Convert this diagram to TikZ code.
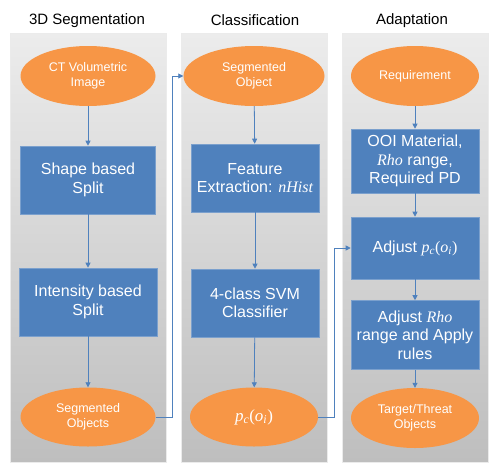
\documentclass[tikz,border=0pt]{standalone}
\usepackage{fontspec}
\setmainfont{Liberation Sans}
\newfontfamily\varface{Liberation Serif}
\usetikzlibrary{shapes.geometric,arrows.meta}

\definecolor{stageblue}{RGB}{79,129,189}
\definecolor{ovalorange}{RGB}{247,150,70}
\definecolor{panelTop}{RGB}{236,236,236}
\definecolor{panelBot}{RGB}{190,190,190}

% italic variable names, set as in the figure
\newcommand{\varname}[1]{{\varface\itshape #1}}
\newcommand{\probterm}{{\varface\itshape p\textsubscript{c}\upshape(\itshape o\textsubscript{i}\upshape)}}

\tikzset{
    panel/.style={rectangle, inner sep=0pt, draw=white!92!black, line width=0.6pt,
        top color=panelTop, bottom color=panelBot},
    heading/.style={font=\fontsize{15}{18}\selectfont},
    oval/.style={ellipse, inner sep=0pt, fill=ovalorange, text=white, align=center,
        minimum height=60, font=\fontsize{12.5}{15}\selectfont},
    stage/.style={rectangle, inner sep=0pt, fill=stageblue, draw=stageblue!75!white,
        line width=0.6pt, text=white, align=center, font=\fontsize{16}{18.5}\selectfont},
    flow/.style={draw=stageblue, line width=0.8pt, -{Triangle[length=5pt,width=5pt]}}
}

\begin{document}
\begin{tikzpicture}[x=1pt,y=1pt,yscale=-1,xscale=1]
    \useasboundingbox (0,0) rectangle (498,469);

    % Panels
    \node [panel, minimum width=156, minimum height=429] (segpanel) at (88,247.5) {};
    \node [panel, minimum width=146, minimum height=429] (clspanel) at (254,247.5) {};
    \node [panel, minimum width=146, minimum height=429] (adppanel) at (415,247.5) {};

    % Headings
    \node [heading] (seghead) at (87,21) {3D Segmentation};
    \node [heading] (clshead) at (255,20) {Classification};
    \node [heading] (adphead) at (412,21) {Adaptation};

    % 3D Segmentation
    \node [oval, minimum width=135] (ctimage) at (88,76) {CT Volumetric\\Image};
    \node [stage, minimum width=135, minimum height=68] (shapesplit) at (88,180) {Shape based\\Split};
    \node [stage, minimum width=138, minimum height=68] (intsplit) at (88,302) {Intensity based\\Split};
    \node [oval, minimum width=135, minimum height=59] (segobjs) at (88,417) {Segmented\\Objects};

    % Classification
    \node [oval, minimum width=141] (segobj) at (254,76) {Segmented\\Object};
    \node [stage, minimum width=128, minimum height=68] (featext) at (255,178) {Feature\\Extraction: \varname{nHist}};
    \node [stage, minimum width=128, minimum height=68] (svm) at (255,303) {4-class SVM\\Classifier};
    \node [oval, minimum width=128, minimum height=59, font=\fontsize{17}{18}\selectfont] (prob) at (254,417) {\probterm};

    % Adaptation
    \node [oval, minimum width=128] (require) at (415,76) {Requirement};
    \node [stage, minimum width=128, minimum height=64] (ooi) at (415,161) {OOI Material,\\\varname{Rho} range,\\Required PD};
    \node [stage, minimum width=128, minimum height=62] (adjprob) at (415,248) {Adjust \probterm};
    \node [stage, minimum width=128, minimum height=69] (adjrho) at (415,335) {Adjust \varname{Rho}\\range and Apply\\rules};
    \node [oval, minimum width=128] (target) at (415,418) {Target/Threat\\Objects};

    % Connectors
    \draw [flow] (ctimage) -- (shapesplit);
    \draw [flow] (shapesplit) -- (intsplit);
    \draw [flow] (intsplit) -- (segobjs);
    \draw [flow] (segobjs.east) -- ++(17,0) |- (segobj.west);
    \draw [flow] (segobj) -- (featext);
    \draw [flow] (featext) -- (svm);
    \draw [flow] (svm) -- (prob);
    \draw [flow] (prob.east) -- ++(16,0) |- (adjprob.west);
    \draw [flow] (require) -- (ooi);
    \draw [flow] (ooi) -- (adjprob);
    \draw [flow] (adjprob) -- (adjrho);
    \draw [flow] (adjrho) -- (target);
\end{tikzpicture}
\end{document}
